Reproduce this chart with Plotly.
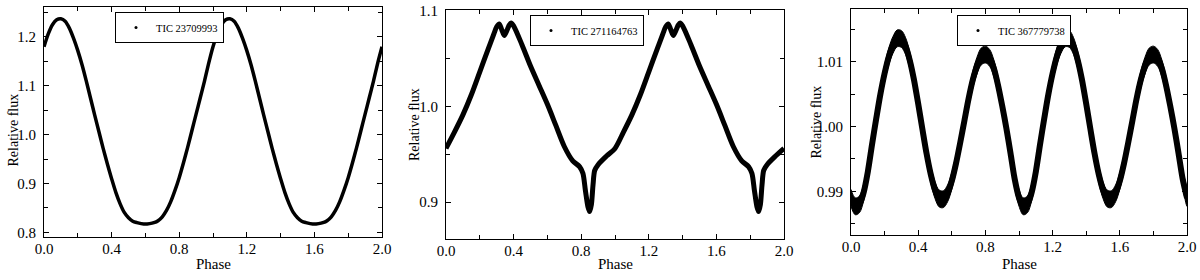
import numpy as np
import plotly.graph_objects as go

# ---------------- data (one phase cycle, folded and shown twice) ----------------
names = ["TIC 23709993", "TIC 271164763", "TIC 367779738"]

phase1 = [0.000, 0.025, 0.050, 0.075, 0.100, 0.125, 0.150, 0.175, 0.200, 0.225,
          0.250, 0.275, 0.300, 0.325, 0.350, 0.375, 0.400, 0.425, 0.450, 0.475,
          0.500, 0.525, 0.550, 0.575, 0.600, 0.625, 0.650, 0.675, 0.700, 0.725,
          0.750, 0.775, 0.800, 0.825, 0.850, 0.875, 0.900, 0.925, 0.950, 0.975, 1.000]
flux1 = [1.180, 1.206, 1.225, 1.235, 1.237, 1.232, 1.218, 1.197, 1.172, 1.143,
         1.110, 1.075, 1.040, 1.006, 0.972, 0.940, 0.910, 0.882, 0.859, 0.841,
         0.830, 0.823, 0.820, 0.818, 0.817, 0.818, 0.820, 0.824, 0.832, 0.845,
         0.863, 0.886, 0.912, 0.942, 0.974, 1.008, 1.042, 1.076, 1.110, 1.147, 1.180]

phase2 = [0.00, 0.05, 0.10, 0.15, 0.20, 0.25, 0.28, 0.30, 0.315, 0.33, 0.345,
          0.36, 0.375, 0.385, 0.40, 0.45, 0.50, 0.55, 0.60, 0.65, 0.70, 0.75,
          0.79, 0.81, 0.825, 0.84, 0.85, 0.86, 0.87, 0.88, 0.90, 0.95, 1.00]
flux2 = [0.956, 0.973, 0.991, 1.012, 1.036, 1.060, 1.074, 1.083, 1.086, 1.080, 1.074,
         1.079, 1.085, 1.087, 1.084, 1.064, 1.042, 1.022, 1.002, 0.980, 0.958, 0.943,
         0.937, 0.930, 0.912, 0.895, 0.890, 0.897, 0.918, 0.933, 0.939, 0.948, 0.956]

phase3 = [0.000, 0.025, 0.050, 0.075, 0.100, 0.125, 0.150, 0.175, 0.200, 0.225,
          0.250, 0.275, 0.300, 0.325, 0.350, 0.375, 0.400, 0.425, 0.450, 0.475,
          0.500, 0.525, 0.550, 0.575, 0.600, 0.625, 0.650, 0.675, 0.700, 0.725,
          0.750, 0.775, 0.800, 0.825, 0.850, 0.875, 0.900, 0.925, 0.950, 0.975, 1.000]
flux3 = [0.9890, 0.9877, 0.9880, 0.9898, 0.9930, 0.9972, 1.0012, 1.0050, 1.0082, 1.0108,
         1.0126, 1.0136, 1.0135, 1.0124, 1.0102, 1.0072, 1.0035, 0.9996, 0.9958, 0.9926,
         0.9902, 0.9889, 0.9888, 0.9897, 0.9916, 0.9943, 0.9975, 1.0009, 1.0043, 1.0072,
         1.0094, 1.0108, 1.0111, 1.0106, 1.0090, 1.0064, 1.0032, 0.9997, 0.9958, 0.9918, 0.9890]
scatter3 = 0.0013   # half-width of the noise cloud in panel 3

x_ticks = [0.0, 0.4, 0.8, 1.2, 1.6, 2.0]
y_ranges = [[0.7906, 1.2612], [0.8614, 1.1005], [0.98327, 1.01813]]
y_dticks = [0.1, 0.1, 0.01]
y_formats = [".1f", ".1f", ".2f"]

# ---------------- layout geometry (pixels in 1200x280) ----------------
W, H = 1200, 280
x_px = [(44, 382), (446, 784), (851, 1187)]
y_px = [(7, 237), (10, 239), (9, 235)]
ytitle_pos = [(12.5, 130), (414, 124), (816, 122.5)]
legend_pos = [(115, 12), (530, 15), (957, 15)]

FONT = "Liberation Serif"


def fold(p, f):
    p = np.asarray(p)
    f = np.asarray(f)
    return np.concatenate([p, p[1:] + 1.0]), np.concatenate([f, f[1:]])


fig = go.Figure()

series = [(phase1, flux1, 3.5), (phase2, flux2, 5.0), (phase3, flux3, 6.0)]
for i, (p, f, lw) in enumerate(series):
    ax = "" if i == 0 else str(i + 1)
    xs, ys = fold(p, f)
    if i == 2:
        up = ys + scatter3
        lo = ys - scatter3
        fig.add_trace(go.Scatter(
            x=np.concatenate([xs, xs[::-1]]), y=np.concatenate([up, lo[::-1]]),
            mode="lines", fill="toself", fillcolor="black",
            line=dict(color="black", width=1, shape="spline"),
            showlegend=False, hoverinfo="skip", xaxis="x" + ax, yaxis="y" + ax))
    fig.add_trace(go.Scatter(
        x=xs, y=ys, mode="lines",
        line=dict(color="black", width=lw, shape="spline", smoothing=0.8),
        showlegend=False, xaxis="x" + ax, yaxis="y" + ax))
    # legend entry (dot symbol)
    fig.add_trace(go.Scatter(
        x=[None], y=[None], mode="markers", name=names[i],
        marker=dict(color="black", size=3),
        legend="legend" + ax, xaxis="x" + ax, yaxis="y" + ax))

layout = dict(
    width=W, height=H,
    margin=dict(l=0, r=0, t=0, b=0),
    paper_bgcolor="white", plot_bgcolor="white",
    font=dict(family=FONT, color="black"),
    annotations=[],
)

for i in range(3):
    ax = "" if i == 0 else str(i + 1)
    x0, x1 = x_px[i]
    t, b = y_px[i]
    common = dict(
        showline=True, linecolor="black", linewidth=1, mirror="ticks",
        ticks="inside", ticklen=5, tickwidth=1, tickcolor="black",
        showgrid=False, zeroline=False, automargin=False,
        tickfont=dict(family=FONT, size=15, color="black"),
    )
    layout["xaxis" + ax] = dict(
        common, domain=[x0 / W, x1 / W], range=[0, 2],
        tickvals=x_ticks, tickformat=".1f", ticklabelstandoff=-2,
        minor=dict(dtick=0.2, tick0=0, ticks="inside", ticklen=4, tickcolor="black"),
        anchor="y" + ax,
    )
    layout["yaxis" + ax] = dict(
        common, domain=[1 - b / H, 1 - t / H], range=y_ranges[i],
        dtick=y_dticks[i], tick0=0, tickformat=y_formats[i], ticklabelstandoff=4,
        minor=dict(dtick=y_dticks[i] / 2, tick0=0, ticks="inside", ticklen=4,
                   tickcolor="black"),
        anchor="x" + ax,
    )
    lx, ly = legend_pos[i]
    layout["legend" + ax] = dict(
        x=lx / W, y=1 - ly / H, xanchor="left", yanchor="top",
        bgcolor="white", bordercolor="black", borderwidth=1,
        font=dict(family=FONT, size=10.5, color="black"),
        itemsizing="trace",
    )
    layout["annotations"].append(dict(
        text="Phase", xref="paper", yref="paper",
        x=(x0 + x1) / 2 / W, y=1 - 264 / H, xanchor="center", yanchor="middle",
        showarrow=False, font=dict(family=FONT, size=15, color="black")))
    tx, ty = ytitle_pos[i]
    layout["annotations"].append(dict(
        text="Relative flux", xref="paper", yref="paper", textangle=-90,
        x=tx / W, y=1 - ty / H, xanchor="center", yanchor="middle",
        showarrow=False, font=dict(family=FONT, size=14, color="black")))

fig.update_layout(**layout)
fig.write_html("out.html", config={"displayModeBar": False},
               post_script="document.body.style.margin='0px';")
